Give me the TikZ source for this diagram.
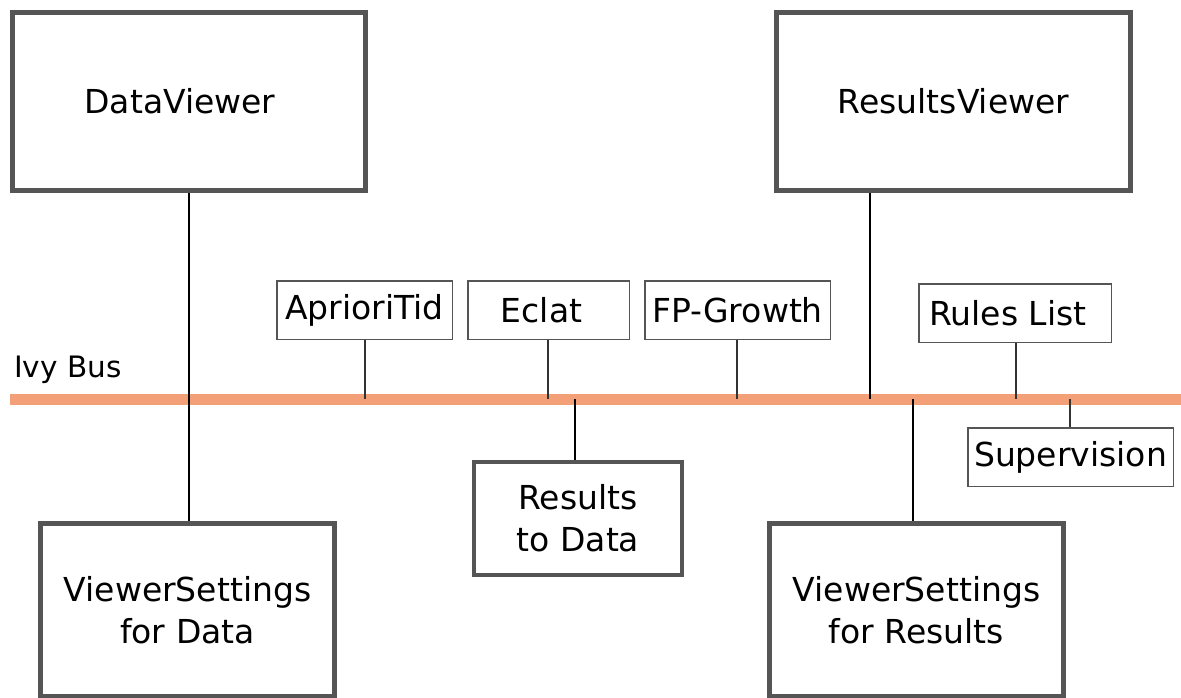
\documentclass[tikz,border=0pt]{standalone}
\usepackage{fontspec}
\setmainfont{DejaVu Sans}
\definecolor{boxgray}{RGB}{85,85,85}
\definecolor{busorange}{RGB}{243,160,120}
\begin{document}
\begin{tikzpicture}[x=1pt,y=-1pt,
  txt/.style={font=\fontsize{33}{42}\selectfont, align=center, text=black, inner sep=0pt},
  bigbox/.style={txt, draw=boxgray, line width=5pt, fill=white},
  midbox/.style={txt, draw=boxgray, line width=3.5pt, fill=white},
  smallbox/.style={txt, draw=boxgray, line width=1.5pt, fill=white},
  wire/.style={draw=black, line width=1.5pt},
  thinwire/.style={draw=black!80, line width=1.1pt},
  bus/.style={draw=busorange, line width=11pt}]
\useasboundingbox (0,0) rectangle (1181,697);
% bus
\coordinate (busL) at (10,399);
\coordinate (busR) at (1181,399);
\draw[bus] (busL) -- (busR);
\node[txt, anchor=base west, font=\fontsize{29.5}{34}\selectfont] (ivy) at (14,377) {Ivy Bus};
% big boxes
\node[bigbox, minimum width=353pt, minimum height=178pt] (dv) at (189,101.5) {DataViewer\hspace*{18pt}};
\node[bigbox, minimum width=354pt, minimum height=178pt] (rv) at (953.5,101.5) {ResultsViewer};
\node[bigbox, minimum width=294pt, minimum height=173pt] (vsd) at (187.5,610) {ViewerSettings\\for Data};
\node[bigbox, minimum width=294pt, minimum height=173pt] (vsr) at (916.5,610) {ViewerSettings\\for Results};
\node[midbox, minimum width=208pt, minimum height=113pt] (rtd) at (578,518.5) {Results\\to Data};
% small boxes
\node[smallbox, minimum width=175.5pt, minimum height=58.5pt] (apt) at (364.5,310) {AprioriTid};
\node[smallbox, minimum width=161.5pt, minimum height=58.5pt] (ecl) at (548.5,310) {\hspace*{-14pt}Eclat};
\node[smallbox, minimum width=185.5pt, minimum height=58.5pt] (fpg) at (737.5,310) {FP-Growth};
\node[smallbox, minimum width=192.5pt, minimum height=58.5pt] (rl) at (1015,313) {Rules List\hspace*{14pt}};
\node[smallbox, minimum width=205.5pt, minimum height=58.5pt] (sup) at (1070.5,457) {Supervision};
% bus taps
\coordinate (tapRV) at (870,399);
\coordinate (tapVSR) at (913,399);
\coordinate (tapAPT) at (365,399);
\coordinate (tapECL) at (548,399);
\coordinate (tapFPG) at (737,399);
\coordinate (tapRTD) at (575,399);
\coordinate (tapRL) at (1016,399);
\coordinate (tapSUP) at (1070,399);
% connectors
\draw[wire] (dv.south) -- (vsd.north -| dv.south);
\draw[wire] (rv.south -| tapRV) -- (tapRV);
\draw[wire] (tapVSR) -- (vsr.north -| tapVSR);
\draw[wire] (tapRTD) -- (rtd.north -| tapRTD);
\draw[thinwire] (apt.south -| tapAPT) -- (tapAPT);
\draw[thinwire] (ecl.south -| tapECL) -- (tapECL);
\draw[thinwire] (fpg.south -| tapFPG) -- (tapFPG);
\draw[thinwire] (rl.south -| tapRL) -- (tapRL);
\draw[thinwire] (tapSUP) -- (sup.north -| tapSUP);
\end{tikzpicture}
\end{document}
